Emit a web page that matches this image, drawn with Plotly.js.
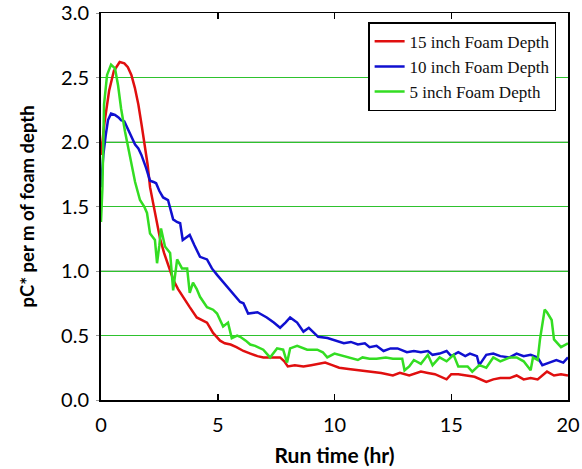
<!DOCTYPE html>
<html><head><meta charset="utf-8">
<script src="https://cdn.plot.ly/plotly-3.0.1.min.js"></script>
<style>html,body{margin:0;padding:0;background:#fff}#chart{width:582px;height:469px}</style>
</head><body><div id="chart"></div>
<script>
const seriesNames = ["15 inch Foam Depth", "10 inch Foam Depth", "5 inch Foam Depth"];

const redX = [0,0.15,0.35,0.55,0.8,1.0,1.15,1.3,1.45,1.6,1.75,1.87,2.0,2.1,2.25,2.4,2.53,2.7,2.9,3.1,3.3,3.5,3.8,4.1,4.3,4.54,4.8,5.1,5.3,5.55,5.8,6.1,6.4,6.7,6.95,7.3,7.67,7.85,8.0,8.3,8.67,9.0,9.3,9.6,9.9,10.2,10.6,11.1,11.5,12.0,12.5,12.8,13.2,13.7,14.0,14.3,14.8,15.0,15.3,15.7,16.0,16.5,16.8,17.1,17.5,17.8,18.1,18.4,18.7,19.1,19.4,19.7,20];
const redY = [1.9,2.15,2.4,2.55,2.62,2.61,2.58,2.52,2.42,2.29,2.12,1.98,1.82,1.65,1.52,1.38,1.25,1.14,1.03,0.93,0.86,0.8,0.72,0.64,0.62,0.6,0.52,0.46,0.44,0.43,0.41,0.38,0.36,0.34,0.33,0.33,0.33,0.3,0.26,0.27,0.26,0.27,0.28,0.29,0.27,0.25,0.24,0.23,0.22,0.21,0.19,0.21,0.19,0.22,0.21,0.2,0.16,0.2,0.2,0.19,0.18,0.14,0.16,0.17,0.17,0.19,0.16,0.17,0.16,0.22,0.19,0.2,0.19];

const blueX = [0,0.1,0.2,0.3,0.43,0.6,0.75,0.86,1.0,1.16,1.3,1.46,1.6,1.73,1.93,2.1,2.25,2.36,2.5,2.66,2.87,3.0,3.09,3.25,3.39,3.5,3.65,3.8,4.0,4.24,4.54,4.75,4.97,5.2,5.4,5.7,5.96,6.1,6.3,6.7,6.9,7.1,7.4,7.67,7.9,8.1,8.4,8.67,8.9,9.3,9.7,10.1,10.4,10.7,11.0,11.3,11.5,11.8,12.1,12.4,12.7,13.1,13.4,13.7,14.0,14.2,14.5,14.8,15.0,15.3,15.6,15.8,16.1,16.2,16.5,16.8,17.1,17.5,17.8,18.1,18.4,18.7,18.9,19.2,19.5,19.8,20];
const blueY = [1.65,1.9,2.05,2.17,2.22,2.21,2.19,2.17,2.16,2.1,2.05,1.98,1.95,1.9,1.8,1.7,1.69,1.68,1.62,1.57,1.55,1.46,1.4,1.38,1.37,1.24,1.26,1.28,1.2,1.11,1.09,1.02,0.97,0.92,0.88,0.82,0.76,0.75,0.67,0.68,0.66,0.64,0.6,0.56,0.6,0.64,0.6,0.53,0.56,0.49,0.48,0.46,0.44,0.45,0.43,0.44,0.41,0.42,0.38,0.4,0.4,0.37,0.38,0.37,0.38,0.35,0.36,0.38,0.34,0.37,0.34,0.36,0.34,0.27,0.35,0.36,0.34,0.33,0.36,0.34,0.35,0.33,0.27,0.29,0.31,0.29,0.33];

const greenX = [0,0.06,0.13,0.26,0.43,0.6,0.73,0.86,1.03,1.24,1.46,1.67,1.85,1.97,2.1,2.31,2.4,2.5,2.57,2.74,2.96,3.09,3.26,3.47,3.69,3.8,3.94,4.1,4.24,4.54,4.8,4.97,5.23,5.44,5.6,5.83,5.96,6.2,6.39,6.6,6.82,6.95,7.24,7.54,7.8,7.97,8.1,8.4,8.83,9.26,9.5,9.69,10.0,10.2,10.5,11.0,11.2,11.5,11.8,12.2,12.5,12.9,13.0,13.2,13.4,13.7,14.0,14.2,14.5,14.8,15.1,15.3,15.7,15.9,16.2,16.5,16.8,17.1,17.5,17.8,18.1,18.4,18.5,18.7,18.8,19.0,19.1,19.3,19.4,19.7,20];
const greenY = [1.38,1.64,2.29,2.52,2.6,2.57,2.44,2.26,2.08,1.88,1.69,1.55,1.5,1.45,1.29,1.24,1.06,1.2,1.33,1.19,1.14,0.85,1.09,1.02,1.02,0.83,0.91,0.86,0.8,0.72,0.7,0.67,0.57,0.6,0.48,0.5,0.49,0.46,0.43,0.42,0.4,0.39,0.33,0.4,0.39,0.29,0.4,0.42,0.39,0.39,0.37,0.33,0.36,0.35,0.33,0.31,0.33,0.32,0.32,0.33,0.32,0.32,0.23,0.26,0.31,0.28,0.35,0.27,0.33,0.3,0.35,0.26,0.26,0.22,0.27,0.25,0.33,0.3,0.33,0.33,0.3,0.23,0.33,0.31,0.47,0.7,0.68,0.62,0.47,0.41,0.44];

const xTicks = [0,5,10,15,20];
const yTicks = [0,0.5,1,1.5,2,2.5,3];
const yTickText = ["0.0","0.5","1.0","1.5","2.0","2.5","3.0"];

const sans = "Lato, 'Open Sans', sans-serif";
const traces = [
  {x: redX, y: redY, name: seriesNames[0], type: "scatter", mode: "lines", line: {color: "#e00f0f", width: 2.5}},
  {x: blueX, y: blueY, name: seriesNames[1], type: "scatter", mode: "lines", line: {color: "#1010d0", width: 2.5}},
  {x: greenX, y: greenY, name: seriesNames[2], type: "scatter", mode: "lines", line: {color: "#33dd22", width: 2.5}}
];
const layout = {
  width: 582, height: 469,
  margin: {l: 101, r: 14, t: 13, b: 69},
  paper_bgcolor: "#fff", plot_bgcolor: "#fff",
  showlegend: true,
  legend: {x: 0.572, y: 0.976, xanchor: "left", yanchor: "top", bgcolor: "#fff", bordercolor: "#000", borderwidth: 1.5,
    font: {family: "'Liberation Serif', 'Times New Roman', serif", size: 17, color: "#111"}, itemwidth: 30, tracegroupgap: 0},
  xaxis: {range: [0, 20], tickvals: xTicks, ticks: "inside", ticklen: 6, tickcolor: "#000", tickwidth: 1.5,
    showline: true, linecolor: "#000", linewidth: 1.5, mirror: "ticks", showgrid: false, zeroline: false,
    tickfont: {family: sans, size: 20, color: "#000"}, ticklabelstandoff: 6,
    title: {text: "<b>Run time (hr)</b>", font: {family: sans, size: 21, color: "#000"}, standoff: 14}},
  yaxis: {range: [0, 3], tickvals: yTicks, ticktext: yTickText, ticks: "outside", ticklen: 3, tickcolor: "#999", tickwidth: 1,
    showline: true, linecolor: "#000", linewidth: 2, mirror: true, showgrid: true, gridcolor: "#2ec22e", gridwidth: 1, zeroline: false,
    tickfont: {family: sans, size: 20, color: "#000"}, ticklabelstandoff: 3,
    title: {text: "<b>pC* per m of foam depth</b>", font: {family: sans, size: 18.5, color: "#000"}, standoff: 22}},
  shapes: [
    {type: "line", xref: "paper", x0: 0, x1: 1, yref: "y", y0: 1, y1: 1, line: {color: "#6f9f6f", width: 1.2}, layer: "below"},
    {type: "line", xref: "paper", x0: 0, x1: 1, yref: "y", y0: 2, y1: 2, line: {color: "#6f9f6f", width: 1.2}, layer: "below"}
  ]
};
Plotly.newPlot("chart", traces, layout, {displayModeBar: false, staticPlot: true});
</script></body></html>
